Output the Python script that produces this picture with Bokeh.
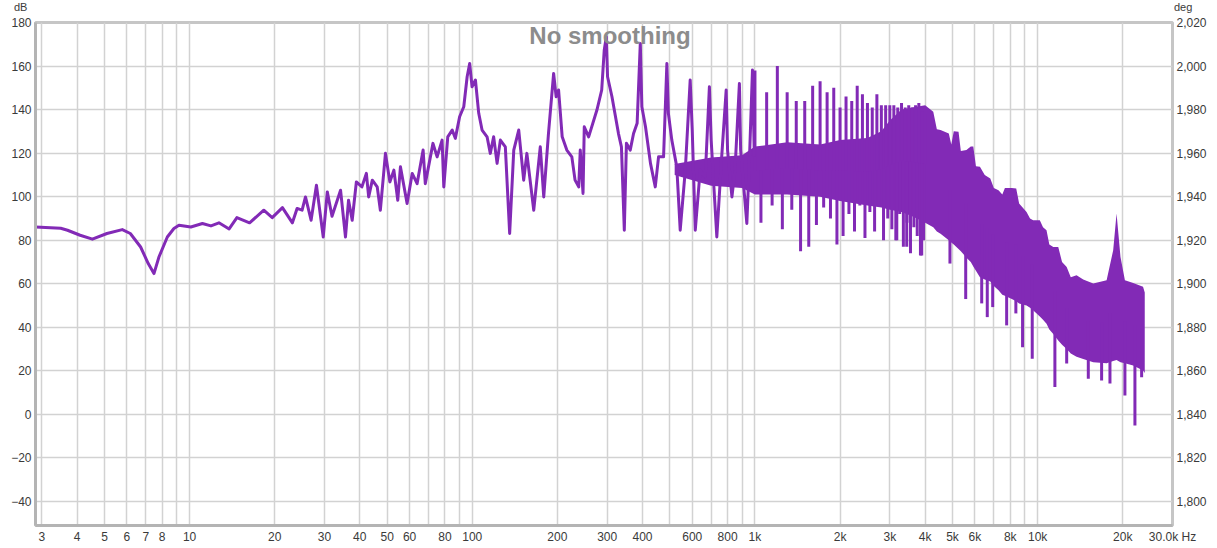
import numpy as np
from bokeh.plotting import figure
from bokeh.models import Range1d, LinearAxis, FixedTicker, NumeralTickFormatter, Label, Div
from bokeh.layouts import column
from bokeh.embed import file_html
from bokeh.resources import INLINE

# ---------------- data ----------------
# low/mid frequency trace (Hz, dB)
lf_freq = [2.85, 3.5, 3.7, 4.1, 4.53, 5.1, 5.78, 6.17, 6.71, 7.14, 7.48, 7.79, 8.34, 8.8, 9.17,
           10.1, 11.1, 11.9, 12.7, 13.8, 14.7, 16.3, 18.3, 19.6, 21.3, 23.1, 24.0, 25.0, 25.7,
           26.9, 28.1, 29.7, 30.7, 31.9, 34.2, 35.6, 36.5, 37.6, 38.9, 40.7, 42.2, 43.0, 44.3,
           46.1, 47.3, 49.3, 51.1, 52.8, 54.5, 55.7, 58.8, 61.3, 63.8, 67.0, 68.2, 72.6, 75.1,
           78.2, 79.3, 81.9, 84.9, 87.1, 90.2, 93.3, 95.9, 97.9, 99.8, 102.6, 105.4, 108.3,
           112.8, 115.8, 119.0, 122.4, 125.7, 130.9, 135.6, 140.2, 146.0, 152.0, 156.0, 165.0,
           174.0, 179.0, 186.0, 194.0, 198.0, 202.0, 208.0, 216.0, 225.0, 231.0, 238.0, 241.0,
           246.5, 249.0, 258.0, 276.0, 287.0, 293.0, 298.0, 301.0, 312.0, 329.0, 337.0, 345.0,
           351.0, 362.0, 372.0, 383.0, 393.0, 398.0, 410.0, 427.0, 444.0, 456.0, 475.0, 488.0,
           494.0, 508.0, 529.0, 544.0, 567.0, 590.0, 600.0, 615.0, 640.0, 667.0, 690.0, 700.0,
           733.0, 760.0, 791.0, 800.0, 829.0, 850.0, 881.0, 890.0, 936.0, 955.0, 980.0, 995.0]
lf_db = [86.1, 85.5, 84.6, 82.3, 80.5, 83.1, 84.9, 83.1, 76.9, 69.3, 64.7, 72.3, 81.5, 85.4, 86.9,
         86.1, 87.7, 86.6, 88.0, 85.2, 90.4, 88.0, 93.8, 90.4, 95.0, 88.0, 94.6, 93.8, 99.9,
         89.2, 105.3, 81.5, 102.2, 91.0, 103.0, 81.5, 98.4, 89.2, 106.8, 104.5, 110.7, 99.9, 107.6,
         104.5, 93.8, 119.9, 106.8, 112.2, 98.4, 113.7, 96.9, 110.7, 106.0, 121.4, 106.0, 124.5, 118.3,
         126.0, 104.5, 127.5, 130.6, 126.8, 136.7, 141.3, 155.1, 161.2, 150.5, 153.6, 138.3, 130.6,
         127.5, 119.9, 127.5, 115.3, 126.0, 122.9, 83.1, 121.4, 130.6, 107.6, 119.9, 93.8,
         122.9, 99.9, 129.0, 156.6, 145.9, 149.0, 127.5, 121.4, 118.3, 107.6, 104.5, 121.4,
         101.5, 132.1, 127.5, 139.8, 149.0, 167.4, 173.5, 155.1, 145.9, 129.0, 122.9, 84.6,
         124.5, 121.4, 129.0, 133.7, 170.4, 141.3, 132.1, 115.3, 104.5, 118.3, 118.3, 161.2,
         138.3, 126.0, 113.7, 84.6, 112.2, 153.6, 130.6, 84.6, 112.2, 109.1, 150.5, 126.0,
         81.5, 115.3, 149.0, 121.4, 99.9, 112.2, 152.0, 121.4, 87.7, 115.3, 158.2, 118.3]

# harmonic comb 1 kHz - 4 kHz: peaks at the harmonics, dips in between
comb_freq = [1000, 1100, 1200, 1300, 1400, 1500, 1600, 1700, 1800, 1900, 2000, 2100, 2200, 2300,
             2400, 2500, 2600, 2700, 2800, 2900, 3000, 3100, 3200, 3300, 3400, 3500, 3600, 3700,
             3800, 3900, 4000]
comb_peak = [158, 148, 160, 148, 144, 144, 151, 153, 148, 150, 141, 146, 144, 151, 147, 143, 141,
             147, 142, 142, 142, 142, 141, 143, 141, 142, 141, 142, 143, 139, 138]
comb_dip_freq = [1050, 1150, 1250, 1350, 1450, 1550, 1650, 1750, 1850, 1950, 2050, 2150, 2250,
                 2350, 2450, 2550, 2650, 2750, 2850, 2950, 3050, 3150, 3250, 3350, 3450, 3550,
                 3650, 3750, 3850, 3950]
comb_dip = [88, 96, 85, 94, 75, 77, 87, 95, 90, 78, 82, 92, 84, 96, 81, 93, 84, 96, 80, 90, 85, 80,
            92, 77, 88, 74, 86, 82, 73, 80]

# dense band: upper / lower envelope of the solid region
band_freq = [520, 700, 900, 1000, 1300, 1700, 2000, 2500, 2800, 3000, 3300, 3600, 4000, 4274,
             4400, 4535, 4850, 4950, 5050, 5250, 5350, 5600, 5800, 5921, 6050, 6250, 6500, 6800,
             7000, 7270, 7500, 7660, 8100, 8400, 8600, 9137, 9400, 9640, 10180, 10450, 10750,
             11000, 11360, 11830, 12200, 12670, 13100, 13730, 14500, 15733, 17540, 18505, 19020,
             19640, 20360, 21780, 23600, 23930]
band_top = [115, 118, 119, 123, 125, 124, 126, 127, 130, 135, 140, 141, 142, 139,
            131, 130.6, 129, 124, 130, 129.8, 121, 121.4, 123, 123, 114, 113.7, 110, 108.4,
            104, 103, 101, 104, 104, 103.8, 96.9, 93, 90, 89.2, 89.2, 86, 84.6,
            78, 76.9, 76.9, 70, 67.7, 63, 63.9, 62, 60.1, 61.6, 75.4, 92.3,
            72.3, 61.6, 60.4, 58.6, 56]
band_bot = [110, 105, 104, 101, 101, 100, 98, 96, 95, 94, 93, 91, 88, 86,
            84, 83, 80, 79, 78, 76, 75, 72, 70, 68, 66, 63, 62, 61,
            59, 57, 55, 54.5, 53, 52, 51, 50, 49, 47.8, 45, 43.5, 41.7,
            39, 37, 34, 32, 30, 28, 26.5, 25.5, 24, 23.5, 24.5, 25,
            24, 23.5, 22.5, 20.2, 19]

# deep downward spikes above 3 kHz
hf_dip_freq = [3175, 3443, 3890, 4896, 5566, 6341, 6635, 6935, 7770, 8375, 8845, 9570, 11510,
               12670, 15110, 16840, 18025, 20360, 22090, 23330]
hf_dip = [80, 77, 73, 69.3, 53, 51, 44.7, 49.3, 40.9, 46.4, 30.9, 25.6, 12.6, 23.4, 16.4, 15.6,
          14.2, 8.7, -5.1, 17.1]

# axes
x_grid_ticks = [3, 4, 5, 6, 7, 8, 9, 10, 20, 30, 40, 50, 60, 70, 80, 90, 100, 200, 300, 400, 500,
                600, 700, 800, 900, 1000, 2000, 3000, 4000, 5000, 6000, 7000, 8000, 9000, 10000,
                20000, 30000]
x_tick_labels = {3: "3", 4: "4", 5: "5", 6: "6", 7: "7", 8: "8", 10: "10", 20: "20", 30: "30",
                 40: "40", 50: "50", 60: "60", 80: "80", 100: "100", 200: "200", 300: "300",
                 400: "400", 600: "600", 800: "800", 1000: "1k", 2000: "2k", 3000: "3k",
                 4000: "4k", 5000: "5k", 6000: "6k", 8000: "8k", 10000: "10k", 20000: "20k",
                 30000: "30.0k Hz"}
db_ticks = [-40, -20, 0, 20, 40, 60, 80, 100, 120, 140, 160, 180]
deg_ticks = [1800, 1820, 1840, 1860, 1880, 1900, 1920, 1940, 1960, 1980, 2000, 2020]

# ---------------- figure ----------------
PURPLE = "#822ab6"
FONT = "Liberation Sans"
TXT = "#3a3a3a"
HEAD = 14

FW, FH = 1137, 503
p = figure(x_axis_type="log", x_range=Range1d(2.85, 30000), y_range=Range1d(-51, 180),
           frame_width=FW, frame_height=FH, output_backend="svg", toolbar_location=None,
           min_border_left=35, min_border_right=45, min_border_top=22 - HEAD, min_border_bottom=21,
           background_fill_color="white", border_fill_color="white")
p.outline_line_color = "#c6c6c6"
p.outline_line_width = 3

# grids
p.xgrid.ticker = FixedTicker(ticks=x_grid_ticks)
p.ygrid.ticker = FixedTicker(ticks=db_ticks)
for g in (p.xgrid, p.ygrid):
    g.grid_line_color = "#d2d2d2"
    g.grid_line_width = 1.5

# x axis
xa = p.xaxis[0]
xa.ticker = FixedTicker(ticks=x_grid_ticks)
xa.major_label_overrides = {k: x_tick_labels.get(k, "") for k in x_grid_ticks}

# left axis
ya = p.yaxis[0]
ya.ticker = FixedTicker(ticks=db_ticks)

# right axis
p.extra_y_ranges = {"deg": Range1d(1789, 2020)}
ra = LinearAxis(y_range_name="deg", ticker=FixedTicker(ticks=deg_ticks),
                formatter=NumeralTickFormatter(format="0,0"))
p.add_layout(ra, "right")

for ax in (xa, ya, ra):
    ax.major_tick_line_color = None
    ax.minor_tick_line_color = None
    ax.major_tick_out = 0
    ax.major_tick_in = 0
    ax.axis_line_color = "#b4b4b4"
    ax.axis_line_width = 3
    ax.major_label_text_font = FONT
    ax.major_label_text_font_size = "12px"
    ax.major_label_text_color = TXT
    ax.major_label_standoff = 4
ra.axis_line_color = None

# ---------------- data marks ----------------
p.varea(x=band_freq, y1=band_bot, y2=band_top, fill_color=PURPLE, fill_alpha=1.0)

# mid line of band used as spike anchor
lb = np.log10(np.array(band_freq, dtype=float))
mid = (np.array(band_top) + np.array(band_bot)) / 2.0
comb_base = np.interp(np.log10(comb_freq), lb, mid)
cdip_base = np.interp(np.log10(comb_dip_freq), lb, mid)
hdip_base = np.interp(np.log10(hf_dip_freq), lb, mid)

p.segment(x0=comb_freq, y0=comb_base, x1=comb_freq, y1=comb_peak,
          line_color=PURPLE, line_width=3)
p.segment(x0=comb_dip_freq, y0=cdip_base, x1=comb_dip_freq, y1=comb_dip,
          line_color=PURPLE, line_width=3)
p.segment(x0=hf_dip_freq, y0=hdip_base, x1=hf_dip_freq, y1=hf_dip,
          line_color=PURPLE, line_width=3)

p.line(x=lf_freq, y=lf_db, line_color=PURPLE, line_width=3, line_join="round")

# ---------------- texts ----------------
p.add_layout(Label(x=307, y=174, text="No smoothing", text_font=FONT,
                   text_font_style="bold", text_font_size="24px", text_color="#8c8c8c",
                   text_align="center", text_baseline="middle"))

head = Div(text=(
    '<div style="position:relative;width:1217px;height:%dpx;'
    'font-family:\'Liberation Sans\';font-size:11px;line-height:11px;color:%s;">'
    '<span style="position:absolute;left:14px;top:2px;">dB</span>'
    '<span style="position:absolute;left:1174px;top:2px;">deg</span></div>') % (HEAD, TXT),
    width=1217, height=HEAD, margin=(0, 0, 0, 0))

layout = column(head, p, spacing=0)
open("out.html", "w").write(file_html(layout, INLINE))
